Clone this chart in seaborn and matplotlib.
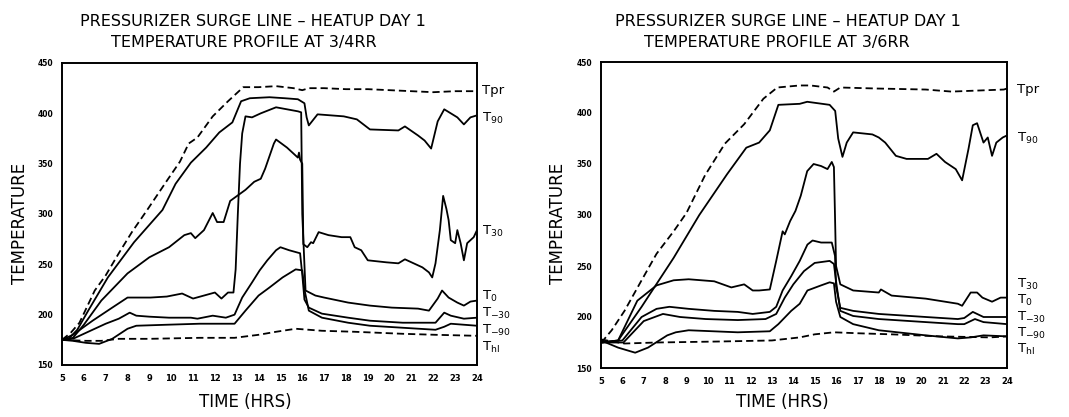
import matplotlib
matplotlib.use("Agg")
import matplotlib.pyplot as plt
import seaborn as sns
import pandas as pd

# ---------------- data: left chart (3/4RR) ----------------
L_tpr_h = [5.0, 5.4, 5.8, 6.5, 7.0, 7.6, 8.2, 8.9, 9.8, 10.4, 10.8, 11.2, 11.9, 12.6, 13.3, 14.0, 14.8, 15.6, 16.0, 16.3, 17.0, 18.0, 19.0, 20.0, 21.0, 22.0, 23.0, 24.0]
L_tpr_v = [175, 182, 192, 224, 239, 261, 282, 304, 333, 352, 370, 376, 397, 412, 426, 426, 427, 425, 423, 425, 425, 424, 424, 423, 422, 421, 422, 422]

L_t90_h = [5.0, 5.3, 5.7, 6.2, 7.1, 8.3, 9.6, 10.2, 10.9, 11.6, 12.2, 12.8, 13.2, 13.6, 14.5, 15.2, 15.8, 16.1, 16.2, 16.3, 16.7, 17.9, 18.5, 19.1, 20.4, 20.7, 21.3, 21.6, 21.9, 22.2, 22.5, 22.8, 23.1, 23.4, 23.7, 24.0]
L_t90_v = [175, 176, 185, 204, 237, 272, 304, 330, 351, 366, 381, 391, 412, 415, 416, 415, 414, 410, 396, 388, 399, 397, 394, 384, 383, 387, 378, 373, 365, 392, 404, 400, 396, 389, 396, 398]

L_t30_h = [5.0, 5.5, 6.0, 6.8, 8.0, 9.0, 9.9, 10.6, 10.9, 11.1, 11.5, 11.9, 12.1, 12.4, 12.7, 13.4, 13.8, 14.1, 14.3, 14.7, 14.8, 15.3, 15.8, 15.85, 15.9, 16.0, 16.05, 16.23, 16.4, 16.5, 16.75, 17.2, 17.8, 18.2, 18.4, 18.7, 19.0, 19.85, 20.4, 20.7, 21.0, 21.5, 21.8, 21.95, 22.1, 22.3, 22.45, 22.6, 22.7, 22.8, 23.0, 23.1, 23.25, 23.4, 23.55, 23.85, 24.0]
L_t30_v = [175, 177, 190, 214, 241, 257, 267, 279, 281, 276, 284, 301, 292, 292, 313, 324, 332, 335, 345, 370, 374, 366, 356, 361, 354, 350, 270, 267, 272, 271, 282, 279, 277, 277, 267, 264, 254, 252, 251, 255, 252, 247, 242, 237, 251, 284, 318, 305, 294, 274, 271, 284, 271, 254, 271, 277, 284]

L_t0_h = [5.0, 5.5, 6.4, 7.3, 8.0, 9.05, 9.8, 10.5, 11.0, 11.5, 12.0, 12.3, 12.6, 12.85, 12.95, 13.05, 13.15, 13.25, 13.4, 13.7, 14.1, 14.8, 15.3, 15.8, 15.95, 16.0, 16.15, 16.6, 17.0, 18.1, 19.1, 20.1, 21.3, 21.8, 22.2, 22.4, 22.7, 23.1, 23.4, 23.7, 24.0]
L_t0_v = [175, 180, 194, 207, 217, 217, 218, 221, 216, 219, 222, 216, 222, 222, 245, 300, 350, 380, 397, 396, 400, 406, 404, 402, 401, 300, 224, 219, 217, 212, 209, 207, 206, 204, 216, 224, 217, 212, 209, 213, 214]

L_tm30_h = [5.0, 5.5, 6.0, 7.0, 7.6, 8.1, 8.4, 9.0, 9.9, 10.9, 11.2, 11.9, 12.5, 12.9, 13.25, 13.7, 14.05, 14.4, 14.8, 15.0, 15.4, 15.9, 16.0, 16.1, 16.3, 16.9, 18.1, 19.1, 20.6, 22.1, 22.5, 22.8, 23.4, 24.0]
L_tm30_v = [175, 176, 181, 191, 196, 202, 199, 198, 197, 197, 196, 199, 197, 200, 217, 232, 244, 254, 264, 267, 264, 261, 240, 215, 207, 201, 197, 194, 192, 192, 202, 199, 196, 197]

L_tm90_h = [5.0, 5.5, 6.1, 6.7, 7.3, 8.0, 8.4, 9.8, 11.3, 12.9, 13.4, 14.0, 14.5, 15.1, 15.7, 16.0, 16.1, 16.3, 16.9, 18.1, 19.1, 20.6, 22.1, 22.5, 22.8, 24.0]
L_tm90_v = [175, 174, 172, 171, 176, 186, 189, 190, 191, 191, 204, 219, 227, 237, 245, 244, 225, 204, 197, 192, 189, 187, 185, 188, 191, 189]

L_thl_h = [5.0, 6.1, 6.8, 7.6, 9.0, 11.3, 12.9, 14.0, 14.8, 15.7, 16.9, 18.4, 20.6, 22.1, 24.0]
L_thl_v = [175, 174, 174, 176, 176, 177, 177, 180, 183, 186, 184, 183, 181, 180, 179]

# ---------------- data: right chart (3/6RR) ----------------
R_tpr_h = [5.0, 5.1, 5.5, 6.1, 6.9, 7.6, 8.4, 9.0, 9.87, 10.8, 11.7, 12.6, 13.25, 14.3, 14.8, 15.6, 15.9, 16.2, 17.9, 20.2, 21.4, 23.85, 24.0]
R_tpr_v = [175, 177, 187, 206, 236, 262, 284, 302, 339, 370, 389, 414, 425, 427, 427, 425, 421, 425, 424, 423, 421, 423, 424]

R_t90_h = [5.0, 5.8, 6.9, 8.4, 9.6, 10.9, 11.8, 12.4, 12.9, 13.3, 14.3, 14.65, 15.7, 15.96, 16.1, 16.3, 16.5, 16.8, 17.7, 18.0, 18.3, 18.8, 19.3, 20.3, 20.7, 21.1, 21.6, 21.9, 22.2, 22.4, 22.6, 22.9, 23.1, 23.3, 23.5, 23.8, 24.0]
R_t90_v = [175, 177, 210, 258, 300, 340, 366, 371, 383, 408, 409, 411, 408, 402, 375, 357, 371, 381, 379, 376, 371, 358, 355, 355, 360, 352, 345, 334, 365, 388, 390, 371, 376, 358, 371, 376, 378]

R_t30_h = [5.0, 5.8, 6.7, 7.6, 8.4, 9.1, 10.3, 11.1, 11.7, 12.1, 12.4, 12.9, 13.2, 13.5, 13.6, 13.85, 14.1, 14.35, 14.65, 14.95, 15.3, 15.6, 15.8, 15.9, 15.95, 16.0, 16.2, 16.8, 18.0, 18.1, 18.6, 20.2, 21.7, 21.9, 22.3, 22.6, 22.85, 23.3, 23.7, 24.0]
R_t30_v = [175, 177, 216, 231, 236, 237, 235, 229, 232, 226, 226, 227, 255, 284, 281, 294, 304, 319, 343, 350, 348, 345, 352, 347, 300, 250, 232, 226, 224, 227, 221, 218, 213, 211, 224, 224, 219, 215, 219, 219]

R_t0_h = [5.0, 6.0, 6.9, 7.6, 8.2, 9.1, 10.3, 11.4, 12.1, 12.9, 13.2, 13.5, 13.9, 14.3, 14.66, 14.9, 15.3, 15.8, 15.95, 16.0, 16.2, 16.8, 18.0, 20.2, 21.7, 22.0, 22.4, 22.6, 22.9, 24.0]
R_t0_v = [175, 177, 200, 208, 210, 208, 206, 205, 203, 205, 210, 226, 240, 255, 271, 275, 273, 273, 260, 230, 209, 206, 203, 200, 198, 199, 205, 203, 200, 200]

R_tm30_h = [5.0, 6.05, 7.0, 7.9, 8.7, 9.9, 11.4, 12.7, 13.2, 13.6, 14.0, 14.5, 15.0, 15.7, 15.9, 16.0, 16.2, 16.8, 18.0, 20.2, 21.7, 22.0, 22.5, 22.9, 24.0]
R_tm30_v = [175, 175, 196, 203, 200, 198, 197, 198, 203, 219, 232, 245, 253, 255, 252, 235, 206, 201, 198, 195, 193, 193, 198, 195, 193]

R_tm90_h = [5.0, 5.8, 6.6, 7.2, 8.1, 8.5, 9.1, 11.4, 12.9, 13.3, 13.9, 14.3, 14.66, 15.3, 15.7, 15.9, 16.0, 16.2, 16.8, 18.0, 20.2, 21.7, 22.3, 22.9, 24.0]
R_tm90_v = [177, 170, 165, 170, 182, 185, 187, 185, 186, 193, 206, 213, 226, 231, 234, 233, 215, 200, 193, 187, 182, 179, 180, 182, 181]

R_thl_h = [5.0, 6.1, 7.6, 10.6, 13.0, 14.3, 15.0, 15.9, 17.1, 18.6, 20.9, 23.2, 24.0]
R_thl_v = [178, 174, 175, 176, 177, 180, 183, 185, 184, 183, 181, 180, 181]

series_names = ["Tpr", "T90", "T30", "T0", "T-30", "T-90", "Thl"]
label_texts = {"Tpr": "Tpr", "T90": r"T$_{\mathrm{90}}$", "T30": r"T$_{\mathrm{30}}$",
               "T0": r"T$_{\mathrm{0}}$", "T-30": r"T$_{\mathrm{-30}}$",
               "T-90": r"T$_{\mathrm{-90}}$", "Thl": r"T$_{\mathrm{hl}}$"}
L_label_y = [423, 395, 283, 218, 201, 184, 167]
R_label_y = [423, 375, 232, 216, 200, 184, 168]

x_ticks = list(range(5, 25))
y_ticks = [150, 200, 250, 300, 350, 400, 450]

left_data = {"Tpr": (L_tpr_h, L_tpr_v), "T90": (L_t90_h, L_t90_v), "T30": (L_t30_h, L_t30_v),
             "T0": (L_t0_h, L_t0_v), "T-30": (L_tm30_h, L_tm30_v), "T-90": (L_tm90_h, L_tm90_v),
             "Thl": (L_thl_h, L_thl_v)}
right_data = {"Tpr": (R_tpr_h, R_tpr_v), "T90": (R_t90_h, R_t90_v), "T30": (R_t30_h, R_t30_v),
              "T0": (R_t0_h, R_t0_v), "T-30": (R_tm30_h, R_tm30_v), "T-90": (R_tm90_h, R_tm90_v),
              "Thl": (R_thl_h, R_thl_v)}


def to_frame(d):
    rows = []
    for name, (hs, vs) in d.items():
        for h, v in zip(hs, vs):
            rows.append({"hour": h, "temp": v, "series": name})
    return pd.DataFrame(rows)


sns.set_style("white")
plt.rcParams["font.family"] = ["DejaVu Sans"]
plt.rcParams["text.color"] = "black"

fig = plt.figure(figsize=(10.69, 4.17), dpi=100)
W, H = 1069.0, 417.0
axL = fig.add_axes([62 / W, 1 - 365 / H, 415 / W, 302 / H])
axR = fig.add_axes([601 / W, 1 - 368 / H, 406 / W, 306 / H])

palette = {s: "black" for s in series_names}
dashes = {s: "" for s in series_names}
dashes["Tpr"] = (4, 2.2)
dashes["Thl"] = (4, 2.2)


def draw(ax, d, label_y, label_x, subtitle, title_x1, title_x2, xlabel_x):
    df = to_frame(d)
    sns.lineplot(data=df, x="hour", y="temp", hue="series", style="series",
                 palette=palette, dashes=dashes, sort=False, estimator=None,
                 legend=False, linewidth=1.3, ax=ax)
    ax.set_xlim(5, 24)
    ax.set_ylim(150, 450)
    ax.set_xticks(x_ticks)
    ax.set_yticks(y_ticks)
    ax.set_xticklabels([str(t) for t in x_ticks], fontsize=6, fontweight="bold")
    ax.set_yticklabels([str(t) for t in y_ticks], fontsize=5.5, fontweight="bold")
    ax.tick_params(direction="inout", length=7, width=1.2, pad=3, colors="black")
    for sp in ax.spines.values():
        sp.set_visible(True)
        sp.set_linewidth(1.4)
        sp.set_color("black")
    ax.set_xlabel("")
    ax.set_ylabel("")
    for name, ly in zip(series_names, label_y):
        ax.text(label_x, ly, label_texts[name], fontsize=9.5, va="center", ha="left",
                clip_on=False, color="black")
    fig.text(title_x1 / W, 1 - 22 / H, "PRESSURIZER SURGE LINE \u2013 HEATUP DAY 1",
             ha="center", va="center", fontsize=11.5, color="black")
    fig.text(title_x2 / W, 1 - 43 / H, subtitle, ha="center", va="center",
             fontsize=11.5, color="black")
    fig.text(xlabel_x / W, 1 - 402 / H, "TIME (HRS)", ha="center", va="center",
             fontsize=12, color="black")


draw(axL, left_data, L_label_y, 24.25, "TEMPERATURE PROFILE AT 3/4RR", 253, 244, 245)
draw(axR, right_data, R_label_y, 24.45, "TEMPERATURE PROFILE AT 3/6RR", 788, 777, 782)

fig.text(20 / W, 1 - 223 / H, "TEMPERATURE", rotation=90, ha="center", va="center",
         fontsize=12, color="black")
fig.text(558 / W, 1 - 223 / H, "TEMPERATURE", rotation=90, ha="center", va="center",
         fontsize=12, color="black")

fig.savefig("out.png", dpi=100)
